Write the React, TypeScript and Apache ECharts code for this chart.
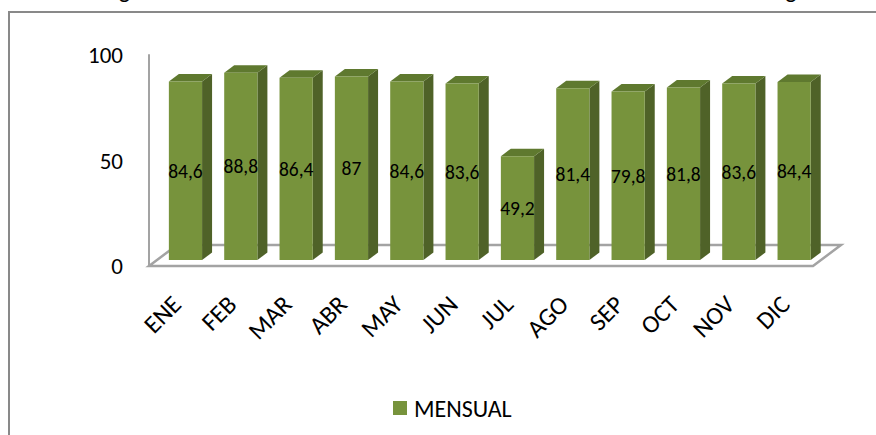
import React, { useEffect, useRef } from "react";
import * as echarts from "echarts";

const categories = ["ENE", "FEB", "MAR", "ABR", "MAY", "JUN", "JUL", "AGO", "SEP", "OCT", "NOV", "DIC"];
const values = [84.6, 88.8, 86.4, 87, 84.6, 83.6, 49.2, 81.4, 79.8, 81.8, 83.6, 84.4];
const seriesName = "MENSUAL";
const titleText = "Figura 3. Humedad relativa media mensual multianual. Estación Sananga";

const W = 876;
const H = 435;
const GL = 149; // grid left
const GRX = 813; // grid right x
const GT = 55;
const GB = 266;
const FLOOR_DX = 28;
const FLOOR_DY = -21;
const FONT = "Carlito, Lato, 'Open Sans', sans-serif";

export default function App() {
  const ref = useRef<HTMLDivElement>(null);
  useEffect(() => {
    if (!ref.current) return;
    const chart = echarts.init(ref.current, undefined, { renderer: "svg" });
    const fmt = (v: number) => String(v).replace(".", ",");
    chart.setOption({
      animation: false,
      backgroundColor: "#ffffff",
      grid: { left: GL, right: W - GRX, top: GT, bottom: H - GB, containLabel: false },
      xAxis: {
        type: "category",
        data: categories,
        axisLine: { show: false },
        axisTick: { show: false },
        splitLine: { show: false },
        axisLabel: {
          interval: 0,
          rotate: 45,
          margin: 34,
          fontSize: 25,
          fontFamily: FONT,
          color: "#000",
        },
      },
      yAxis: {
        type: "value",
        min: 0,
        max: 100,
        interval: 50,
        axisLine: { show: true, lineStyle: { color: "#A3A3A3", width: 2 } },
        axisTick: { show: false },
        splitLine: { show: false },
        axisLabel: { margin: 26, fontSize: 23, fontFamily: FONT, color: "#000" },
      },
      legend: {
        data: [{ name: seriesName, icon: "rect" }],
        left: 388,
        top: 391,
        itemWidth: 14,
        itemHeight: 14,
        textStyle: { fontSize: 24, fontFamily: FONT, color: "#000", padding: [0, 0, 0, 2] },
      },
      graphic: [
        {
          type: "rect",
          z: 0,
          silent: true,
          shape: { x: 9, y: 12, width: 900, height: 460 },
          style: { fill: "none", stroke: "#898989", lineWidth: 2 },
        },
        {
          type: "text",
          z: 0,
          silent: true,
          x: 455,
          y: -10.5,
          style: {
            text: titleText,
            align: "center",
            verticalAlign: "middle",
            fontSize: 24,
            fontFamily: FONT,
            fill: "#000",
          },
        },
        {
          type: "polygon",
          z: 1,
          silent: true,
          shape: {
            points: [
              [GL, GB],
              [GRX, GB],
              [GRX + FLOOR_DX, GB + FLOOR_DY],
              [GL + FLOOR_DX, GB + FLOOR_DY],
            ],
          },
          style: { fill: "#ffffff", stroke: "#A3A3A3", lineWidth: 2.5 },
        },
      ],
      series: [
        {
          name: seriesName,
          type: "custom",
          z: 3,
          itemStyle: { color: "#77933C" },
          encode: { x: 0, y: 1 },
          data: values.map((v, i) => [i, v]),
          renderItem: (params: any, api: any) => {
            const i = api.value(0);
            const v = api.value(1);
            const base = api.coord([i, 0]);
            const top = api.coord([i, v]);
            const band = api.size([1, 0])[0];
            const w = band * 0.6;
            const sx = 8.8;
            const sy = -6;
            const dx = 10;
            const dy = -7.5;
            const x0 = base[0] - w / 2 + sx;
            const x1 = x0 + w;
            const yb = base[1] + sy;
            const yt = top[1] + sy;
            return {
              type: "group",
              children: [
                {
                  type: "polygon",
                  shape: { points: [[x1, yt], [x1 + dx, yt + dy], [x1 + dx, yb + dy], [x1, yb]] },
                  style: { fill: "#4F6228" },
                },
                {
                  type: "polygon",
                  shape: { points: [[x0, yt], [x0 + dx, yt + dy], [x1 + dx, yt + dy], [x1, yt]] },
                  style: { fill: "#5F792F" },
                },
                {
                  type: "rect",
                  shape: { x: x0, y: yt, width: w, height: yb - yt },
                  style: { fill: "#77933C" },
                },
                {
                  type: "text",
                  x: x0 + w / 2,
                  y: (yt + yb) / 2,
                  style: {
                    text: fmt(v),
                    align: "center",
                    verticalAlign: "middle",
                    fontSize: 19.5,
                    fontFamily: FONT,
                    fill: "#000",
                  },
                },
              ],
            };
          },
        },
      ],
    });
    return () => chart.dispose();
  }, []);
  return (
    <div
      ref={ref}
      style={{ position: "absolute", left: 0, top: 0, width: W, height: H }}
    />
  );
}
